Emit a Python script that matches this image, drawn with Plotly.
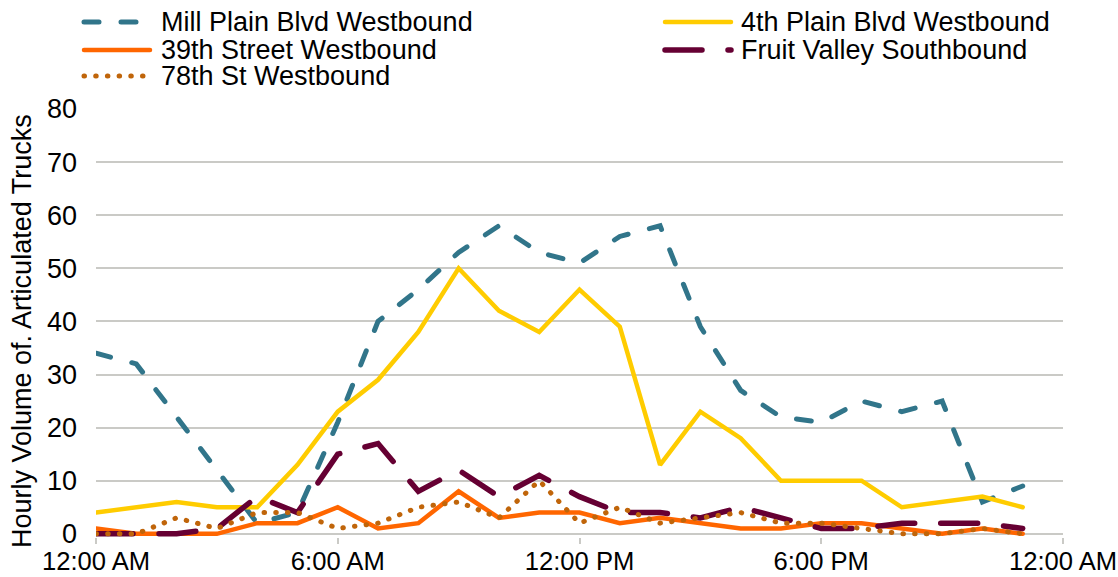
import plotly.graph_objects as go

# Hour of day (0 = midnight) for each hourly count
hours = list(range(24))

mill_plain_wb = [34, 32, 22, 12, 2, 4, 21, 40, 46, 53, 58, 53, 51, 56, 58, 39,
                 27, 22, 21, 25, 23, 25, 6, 9]
fourth_plain_wb = [4, 5, 6, 5, 5, 13, 23, 29, 38, 50, 42, 38, 46, 39, 13, 23,
                   18, 10, 10, 10, 5, 6, 7, 5]
street_39th_wb = [1, 0, 0, 0, 2, 2, 5, 1, 2, 8, 3, 4, 4, 2, 3, 2,
                  1, 1, 2, 2, 1, 0, 1, 0]
fruit_valley_sb = [0, 0, 0, 1, 7, 4, 15, 17, 8, 12, 7, 11, 7, 4, 4, 3,
                   5, 3, 1, 1, 2, 2, 2, 1]
st_78th_wb = [0, 0, 3, 1, 4, 4, 1, 2, 5, 6, 3, 10, 2, 5, 2, 3,
              4, 2, 2, 1, 0, 0, 1, 0]

x_tick_vals = [0, 6, 12, 18, 24]
x_tick_text = ["12:00 AM", "6:00 AM", "12:00 PM", "6:00 PM", "12:00 AM"]

FONT = "Liberation Sans, Arial, sans-serif"
FONT_SIZE = 27
GRID = "#CACAC6"

series = [
    ("Mill Plain Blvd Westbound", mill_plain_wb, "#31758A", 5, "15px,22px"),
    ("4th Plain Blvd Westbound", fourth_plain_wb, "#FFCC00", 4.5, "solid"),
    ("39th Street Westbound", street_39th_wb, "#FF6600", 4.5, "solid"),
    ("Fruit Valley Southbound", fruit_valley_sb, "#660033", 5.5, "37px,26px"),
    ("78th St Westbound", st_78th_wb, "#C0650A", 5, "0.5px,11.2px"),
]

W, H = 1118, 577
M_L, M_R, M_T, M_B = 96, 55, 109, 40

fig = go.Figure()
for name, values, color, width, dash in series:
    fig.add_trace(go.Scatter(
        x=hours, y=values, name=name, mode="lines",
        line=dict(color=color, width=width, dash=dash),
        showlegend=False,
    ))


def to_paper_x(px):
    return (px - M_L) / (W - M_L - M_R)


def to_paper_y(py):
    return (H - M_B - py) / (H - M_T - M_B)


text_font = dict(family=FONT, size=FONT_SIZE, color="#000000")

# Two-column key above the plot: (column left edge, text left edge, row centre)
key_slots = [(82, 159, 22), (663, 739, 22), (82, 159, 50), (663, 739, 50), (82, 159, 76)]
symbol_len = 68
for (sx, tx, ty), (name, _, color, width, dash) in zip(key_slots, series):
    fig.add_shape(
        type="line", xref="paper", yref="paper",
        x0=to_paper_x(sx + 2), x1=to_paper_x(sx + symbol_len),
        y0=to_paper_y(ty), y1=to_paper_y(ty),
        line=dict(color=color, width=width, dash=dash),
    )
    fig.add_annotation(
        text=name, xref="paper", yref="paper",
        x=to_paper_x(tx), y=to_paper_y(ty),
        xanchor="left", yanchor="middle", showarrow=False,
        font=text_font,
    )

# Vertical axis caption
fig.add_annotation(
    text="Hourly Volume of. Articulated Trucks", xref="paper", yref="paper",
    x=to_paper_x(22), y=to_paper_y(331), textangle=-90,
    xanchor="center", yanchor="middle", showarrow=False,
    font=text_font,
)

fig.update_layout(
    width=W, height=H,
    margin=dict(l=M_L, r=M_R, t=M_T, b=M_B, autoexpand=False),
    plot_bgcolor="white", paper_bgcolor="white",
    font=text_font,
    showlegend=False,
)
fig.update_xaxes(
    range=[0, 24], tickvals=x_tick_vals, ticktext=x_tick_text,
    showgrid=False, zeroline=False, showline=False,
    ticks="outside", ticklen=6, tickwidth=1.5, tickcolor=GRID,
    ticklabelstandoff=-5, ticklabeloverflow="allow",
    tickfont=dict(family=FONT, size=25.6, color="#000000"),
)
fig.update_yaxes(
    range=[-0.6, 80], tickvals=list(range(0, 81, 10)),
    showgrid=True, gridcolor=GRID, gridwidth=1.5,
    zeroline=False, showline=False, ticks="",
    ticklabelstandoff=18,
    tickfont=text_font,
)

# Rounded line ends for the dashed and dotted strokes
ROUND_CAPS = """
document.querySelectorAll('.scatterlayer .js-line, .shapelayer path').forEach(function (p) {
  p.style.strokeLinecap = 'round';
});
"""

fig.write_html("out.html", post_script=ROUND_CAPS)
